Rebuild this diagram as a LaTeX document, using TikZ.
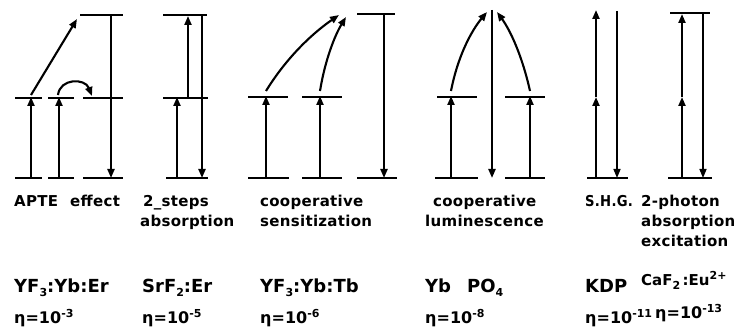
\documentclass[tikz,border=0pt]{standalone}
\usepackage{fontspec}
\setmainfont{DejaVu Sans}
\newfontfamily\labfont{DejaVu Sans}[LetterSpace=2]
\usetikzlibrary{arrows.meta}
\newcommand{\sps}[1]{\raisebox{5.5pt}{\fontsize{11}{11}\selectfont #1}}
\newcommand{\sbs}[1]{\raisebox{-4pt}{\fontsize{11}{11}\selectfont #1}}
\tikzset{
  lvl/.style={line width=2.8pt},
  tr/.style={line width=2.1pt,-{Triangle[length=9pt,width=7pt]}},
  lbl/.style={font=\labfont\bfseries\fontsize{15}{20}\selectfont,inner sep=0pt,anchor=base west},
  mat/.style={font=\bfseries\fontsize{18}{20}\selectfont,inner sep=0pt,anchor=base west},
  eta/.style={font=\bfseries\fontsize{16}{20}\selectfont,inner sep=0pt,anchor=base west},
}
\begin{document}
\begin{tikzpicture}[x=1pt,y=-1pt]
\useasboundingbox (0,0) rectangle (739,331);
% ---------- APTE effect
\draw[lvl] (15,178)--(42,178) (48,178)--(74,178) (83,178)--(123,178);
\draw[lvl] (15,98)--(42,98) (48,98)--(74,98) (83,98)--(123,98);
\draw[lvl] (80,15)--(123,15);
\coordinate (a1b) at (31,178); \coordinate (a1m) at (31,97);
\coordinate (a2b) at (59,178); \coordinate (a2m) at (59,97);
\coordinate (a1s) at (31,95); \coordinate (a1t) at (77,19);
\coordinate (a2s) at (58,95); \coordinate (a3m) at (92,96);
\coordinate (a3t) at (111,15); \coordinate (a3b) at (111,178);
\draw[tr] (a1b)--(a1m);
\draw[tr] (a2b)--(a2m);
\draw[tr] (a1s)--(a1t);
\draw[tr] (a2s) .. controls (60,78) and (85,78) .. (a3m);
\draw[tr] (a3t)--(a3b);
% ---------- 2 steps
\draw[lvl] (163,15)--(207,15) (163,98)--(208,98) (166,178)--(208,178);
\coordinate (b1b) at (177,178); \coordinate (b1m) at (177,97);
\coordinate (b2m) at (188,98); \coordinate (b2t) at (188,16);
\coordinate (b3t) at (202,15); \coordinate (b3b) at (202,178);
\draw[tr] (b1b)--(b1m);
\draw[tr] (b2m)--(b2t);
\draw[tr] (b3t)--(b3b);
% ---------- cooperative sensitization
\draw[lvl] (248,97)--(288,97) (302,97)--(342,97) (357,14)--(395,14);
\draw[lvl] (248,178)--(289,178) (302,178)--(342,178) (357,178)--(397,178);
\coordinate (c1b) at (266,178); \coordinate (c1m) at (266,96);
\coordinate (c2b) at (320,178); \coordinate (c2m) at (320,96);
\coordinate (c1s) at (266,91); \coordinate (c1t) at (339,15);
\coordinate (c2s) at (320,91); \coordinate (c2t) at (346,17);
\coordinate (c3t) at (384,14); \coordinate (c3b) at (384,178);
\draw[tr] (c1b)--(c1m);
\draw[tr] (c2b)--(c2m);
\draw[tr] (c1s) .. controls (285,60) and (310,35) .. (c1t);
\draw[tr] (c2s) .. controls (325,60) and (335,35) .. (c2t);
\draw[tr] (c3t)--(c3b);
% ---------- cooperative luminescence
\draw[lvl] (437,97)--(477,97) (505,97)--(545,97);
\draw[lvl] (435,178)--(478,178) (505,178)--(545,178);
\coordinate (d1b) at (451,178); \coordinate (d1m) at (451,96);
\coordinate (d2b) at (530,178); \coordinate (d2m) at (530,96);
\coordinate (d1s) at (451,91); \coordinate (d1t) at (487,12);
\coordinate (d2s) at (530,91); \coordinate (d2t) at (497,12);
\coordinate (d3t) at (492,10); \coordinate (d3b) at (492,178);
\draw[tr] (d1b)--(d1m);
\draw[tr] (d2b)--(d2m);
\draw[tr] (d1s) .. controls (458,55) and (472,30) .. (d1t);
\draw[tr] (d2s) .. controls (522,55) and (510,30) .. (d2t);
\draw[tr] (d3t)--(d3b);
% ---------- S.H.G.
\draw[lvl] (587,178)--(628,178);
\coordinate (e1b) at (596,178); \coordinate (e1m) at (596,97); \coordinate (e1t) at (596,10);
\coordinate (e2t) at (617,11); \coordinate (e2b) at (617,178);
\draw[tr] (e1b)--(e1m);
\draw[tr] (e1m)--(e1t);
\draw[tr,line width=1.5pt] (e2t)--(e2b);
% ---------- 2-photon
\draw[lvl] (670,13)--(710,13) (668,178)--(712,178);
\coordinate (f1b) at (682,178); \coordinate (f1m) at (682,97); \coordinate (f1t) at (682,14);
\coordinate (f2t) at (703,13); \coordinate (f2b) at (703,178);
\draw[tr] (f1b)--(f1m);
\draw[tr] (f1m)--(f1t);
\draw[tr,line width=1.5pt] (f2t)--(f2b);
% ---------- process labels
\node[lbl] (t1) at (14,207) {APTE\hspace{12pt}effect};
\node[lbl] (t2a) at (143,207) {2\_steps};
\node[lbl] (t2b) at (140,227) {absorption};
\node[lbl] (t3a) at (260,207) {cooperative};
\node[lbl] (t3b) at (260,227) {sensitization};
\node[lbl] (t4a) at (433,207) {cooperative};
\node[lbl] (t4b) at (425,227) {luminescence};
\node[lbl] (t5) at (585,207) {\scalebox{0.88}[1]{S.H.G.}};
\node[lbl] (t6a) at (641,207) {2-photon};
\node[lbl] (t6b) at (641,227) {absorption};
\node[lbl] (t6c) at (641,247) {excitation};
% ---------- materials
\node[mat] (m1) at (14,292) {YF\sbs{3}:Yb:Er};
\node[mat] (m2) at (142,292) {SrF\sbs{2}:Er};
\node[mat] (m3) at (260,292) {YF\sbs{3}:Yb:Tb};
\node[mat] (m4) at (425,292) {Yb\hspace{16pt}PO\sbs{4}};
\node[mat] (m5) at (585,292) {KDP};
\node[mat,font=\bfseries\fontsize{15}{18}\selectfont] (m6) at (641,285) {CaF\sbs{2}\,:Eu\sps{2+}};
% ---------- efficiencies
\node[eta] (e1) at (14,323) {η=10\sps{-3}};
\node[eta] (e2) at (142,323) {η=10\sps{-5}};
\node[eta] (e3) at (260,323) {η=10\sps{-6}};
\node[eta] (e4) at (425,323) {η=10\sps{-8}};
\node[eta] (e5) at (585,323) {η=10\sps{-11}};
\node[eta] (e6) at (655,318) {η=10\sps{-13}};
\end{tikzpicture}
\end{document}
